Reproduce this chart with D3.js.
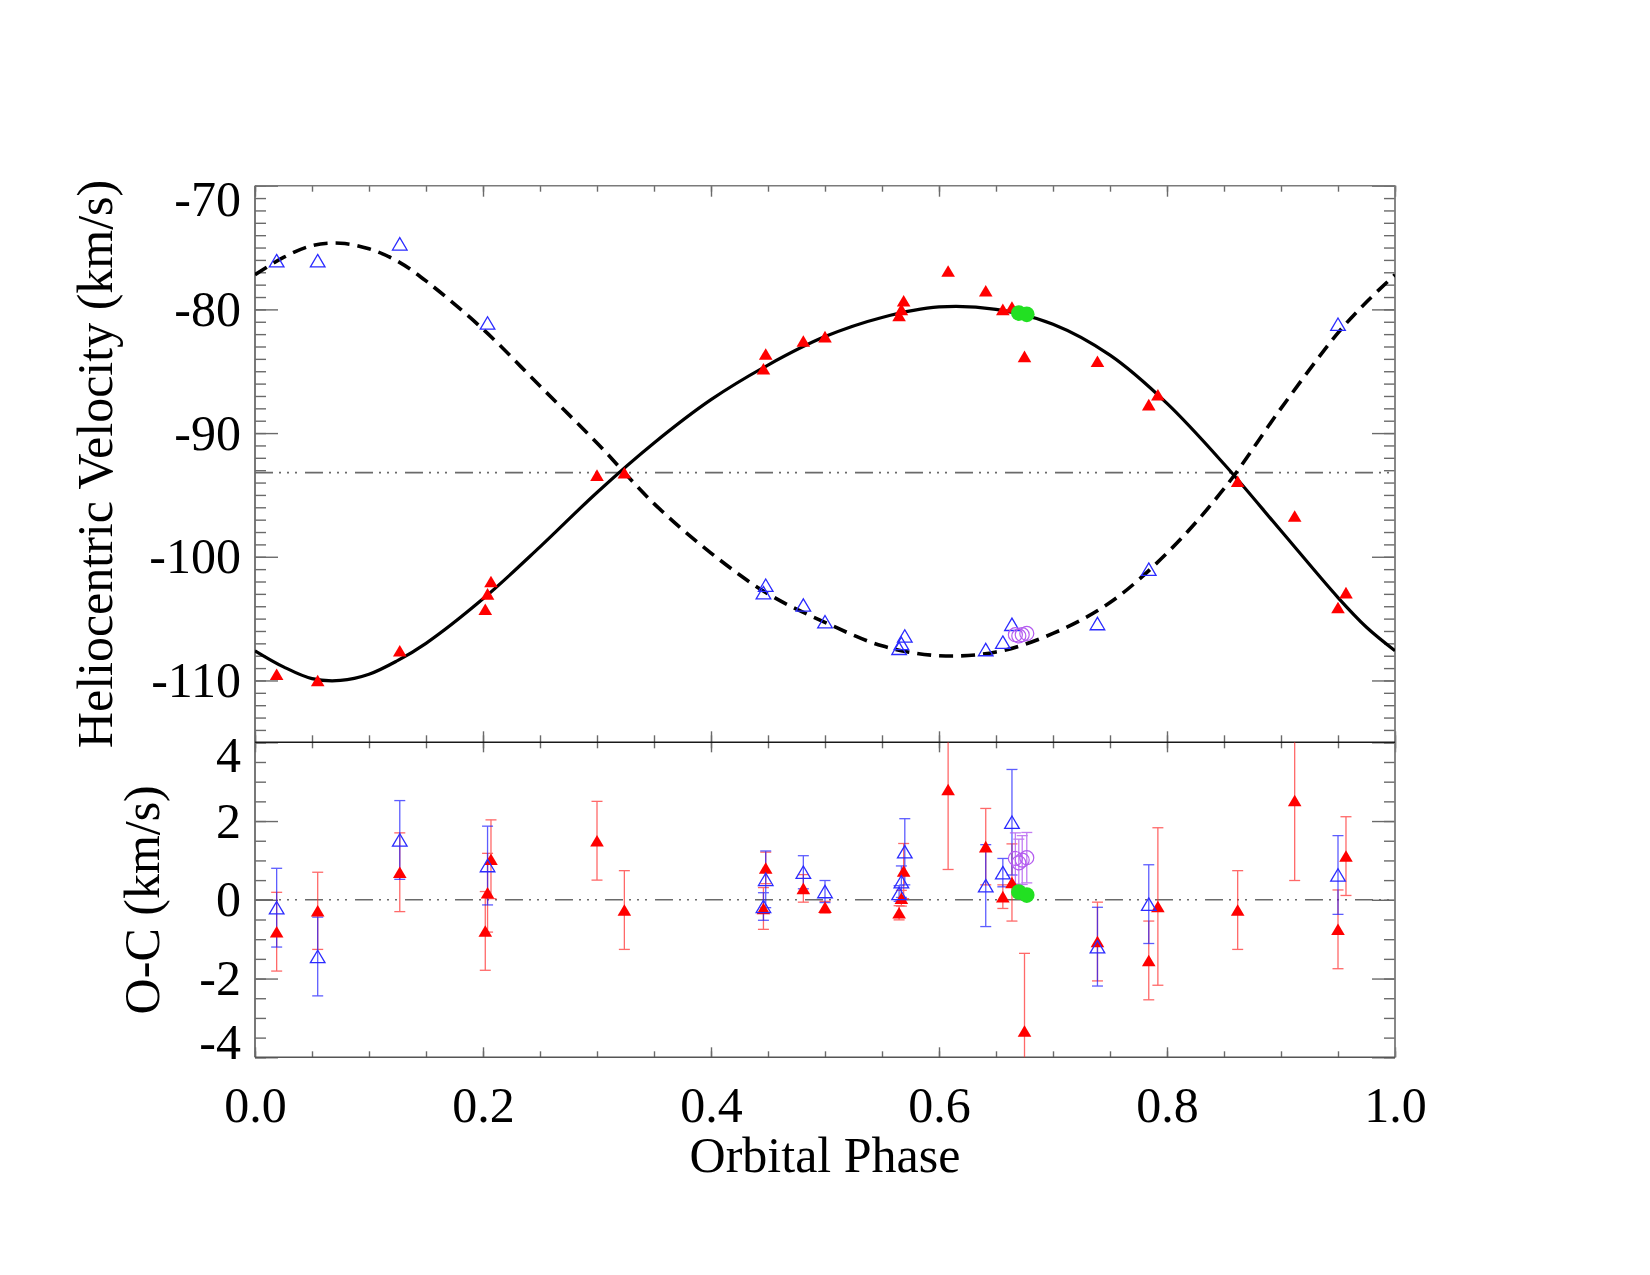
<!DOCTYPE html>
<html><head><meta charset="utf-8">
<script src="https://cdn.jsdelivr.net/npm/d3@7"></script>
<style>body{margin:0;background:#fff} svg{display:block}</style>
</head><body>
<svg id="c" width="1650" height="1275"></svg>
<script>
// ---------- DATA ----------
const curvePhases    = [0, 0.025, 0.05, 0.075, 0.10, 0.125, 0.15, 0.20, 0.25, 0.30, 0.35, 0.40, 0.45, 0.50, 0.55, 0.60, 0.65, 0.70, 0.75, 0.80, 0.85, 0.90, 0.95, 0.975, 1.0];
const primaryCurve   = [-107.6, -108.9, -109.85, -110.0, -109.5, -108.4, -107.0, -103.4, -99.2, -94.8, -90.8, -87.3, -84.5, -82.2, -80.65, -79.8, -80.0, -81.2, -83.7, -87.6, -92.5, -97.9, -103.3, -105.7, -107.6];
const secondaryCurve = [-77.2, -75.8, -74.85, -74.65, -75.1, -76.1, -77.7, -81.6, -86.2, -90.8, -95.7, -99.7, -103.0, -105.3, -107.2, -108.0, -107.7, -106.2, -103.7, -99.7, -94.5, -88.0, -81.9, -79.4, -77.2];
const gammaVel = -93.2;

const priPhase = [0.019, 0.055, 0.127, 0.202, 0.204, 0.207, 0.300, 0.324, 0.446, 0.448, 0.481, 0.500, 0.565, 0.567, 0.569, 0.608, 0.641, 0.656, 0.664, 0.675, 0.739, 0.784, 0.792, 0.862, 0.912, 0.950, 0.957];
const priRV    = [-109.5, -110.0, -107.6, -104.25, -103.0, -102.0, -93.4, -93.2, -84.8, -83.6, -82.55, -82.2, -80.5, -80.0, -79.3, -76.9, -78.5, -80.0, -79.8, -83.8, -84.2, -87.7, -86.9, -93.9, -96.7, -104.1, -102.9];
const priOC    = [-0.81, -0.28, 0.70, -0.79, 0.18, 1.03, 1.50, -0.26, -0.22, 0.81, 0.29, -0.19, -0.33, 0.04, 0.73, 2.80, 1.35, 0.08, 0.44, -3.33, -1.06, -1.54, -0.17, -0.26, 2.52, -0.75, 1.11];
const priErr   = [1.0, 0.98, 1.0, 1.0, 1.0, 1.0, 1.0, 1.0, 0.53, 0.40, 0.35, 0.15, 0.18, 0.20, 0.70, 2.03, 0.97, 0.30, 0.98, 1.97, 1.0, 1.0, 2.0, 1.0, 2.03, 1.0, 1.0];

const secPhase = [0.019, 0.055, 0.127, 0.204, 0.446, 0.448, 0.481, 0.500, 0.565, 0.567, 0.570, 0.641, 0.656, 0.664, 0.739, 0.784, 0.950];
const secRV    = [-76.06, -76.06, -74.7, -81.1, -102.9, -102.3, -103.9, -105.25, -107.4, -107.0, -106.4, -107.5, -106.9, -105.46, -105.4, -101.0, -81.2];
const secOC    = [-0.20, -1.44, 1.52, 0.87, -0.17, 0.52, 0.70, 0.21, 0.16, 0.46, 1.22, 0.36, 0.69, 1.97, -1.19, -0.11, 0.63];
const secErr   = [1.0, 1.0, 1.0, 1.0, 0.35, 0.72, 0.42, 0.28, 0.20, 0.40, 0.84, 1.04, 0.36, 1.34, 1.0, 1.0, 1.0];

const violetPhase = [0.667, 0.670, 0.673, 0.677];
const violetRV    = [-106.3, -106.4, -106.3, -106.2];
const violetOC    = [1.05, 0.94, 1.01, 1.07];
const violetErr   = [0.65, 0.60, 0.62, 0.64];

const greenPhase = [0.670, 0.677];
const greenRV    = [-80.3, -80.4];
const greenOC    = [0.20, 0.12];

const rvMajorTicks = [-70, -80, -90, -100, -110];
const ocMajorTicks = [4, 2, 0, -2, -4];
const phaseMajorTicks = [0, 0.2, 0.4, 0.6, 0.8, 1.0];
const phaseTickLabels = ["0.0", "0.2", "0.4", "0.6", "0.8", "1.0"];
const yTitleTop = "Heliocentric Velocity (km/s)";
const yTitleBottom = "O-C (km/s)";
const xTitle = "Orbital Phase";

// ---------- LAYOUT ----------
const W = 1650, H = 1275;
const L = 255, R = 1395, T1 = 185.7, B1 = 742.3, T2 = 742.3, B2 = 1057.3;
const FONT = "'Liberation Serif','Times New Roman',serif";
const FS = 50;
const svg = d3.select("#c");
svg.append("rect").attr("width", W).attr("height", H).attr("fill", "#fff");

const x = d3.scaleLinear().domain([0, 1]).range([L, R]);
const y1 = d3.scaleLinear().domain([-115, -70]).range([B1, T1]);
const y2 = d3.scaleLinear().domain([-4, 4]).range([B2, T2]);

const defs = svg.append("defs");
defs.append("clipPath").attr("id", "clip1").append("rect").attr("x", L).attr("y", T1).attr("width", R - L).attr("height", B1 - T1);
defs.append("clipPath").attr("id", "clip2").append("rect").attr("x", L).attr("y", T2).attr("width", R - L).attr("height", B2 - T2);

// triangle symbol (bbox-centred like IDL)
const triType = { draw(ctx, size) { const s = Math.sqrt(size); ctx.moveTo(0, -0.85 * s); ctx.lineTo(s, 0.85 * s); ctx.lineTo(-s, 0.85 * s); ctx.closePath(); } };
const redTri = d3.symbol().type(triType).size(6.8 * 6.8)();
const blueTri = d3.symbol().type(triType).size(7.3 * 7.3)();

function styleAxis(g) {
  g.select(".domain").remove();
  g.selectAll(".tick line").attr("stroke", "#6a6a6a").attr("stroke-width", 1.4);
  g.selectAll("text").attr("font-family", FONT).attr("font-size", FS).attr("fill", "#000");
}

const minorRV = d3.range(-115, -69.5, 1);
const minorOC = d3.range(-4, 4.01, 0.5);
const minorPh = d3.range(0, 1.001, 0.05);

// ---- y axes top panel ----
svg.append("g").attr("transform", `translate(${L},0)`).call(d3.axisLeft(y1).tickValues(minorRV).tickSize(-11).tickFormat("")).call(styleAxis);
const yl1 = svg.append("g").attr("transform", `translate(${L},0)`).call(d3.axisLeft(y1).tickValues(rvMajorTicks).tickSize(-23).tickPadding(14).tickFormat(d => String(d))).call(styleAxis);
yl1.selectAll("text").filter(d => d === -70).attr("dy", "0.6em");
svg.append("g").attr("transform", `translate(${R},0)`).call(d3.axisRight(y1).tickValues(minorRV).tickSize(-11).tickFormat("")).call(styleAxis);
svg.append("g").attr("transform", `translate(${R},0)`).call(d3.axisRight(y1).tickValues(rvMajorTicks).tickSize(-23).tickFormat("")).call(styleAxis);

// ---- y axes bottom panel ----
svg.append("g").attr("transform", `translate(${L},0)`).call(d3.axisLeft(y2).tickValues(minorOC).tickSize(-11).tickFormat("")).call(styleAxis);
const yl2 = svg.append("g").attr("transform", `translate(${L},0)`).call(d3.axisLeft(y2).tickValues(ocMajorTicks).tickSize(-23).tickPadding(14).tickFormat(d => String(d))).call(styleAxis);
yl2.selectAll("text").filter(d => d === 4).attr("dy", "0.58em");
yl2.selectAll("text").filter(d => d === -4).attr("dy", "0.02em");
svg.append("g").attr("transform", `translate(${R},0)`).call(d3.axisRight(y2).tickValues(minorOC).tickSize(-11).tickFormat("")).call(styleAxis);
svg.append("g").attr("transform", `translate(${R},0)`).call(d3.axisRight(y2).tickValues(ocMajorTicks).tickSize(-23).tickFormat("")).call(styleAxis);

// ---- x axes ----
svg.append("g").attr("transform", `translate(0,${T1})`).call(d3.axisTop(x).tickValues(minorPh).tickSize(-6).tickFormat("")).call(styleAxis);
svg.append("g").attr("transform", `translate(0,${T1})`).call(d3.axisTop(x).tickValues(phaseMajorTicks).tickSize(-11).tickFormat("")).call(styleAxis);
svg.append("g").attr("transform", `translate(0,${B1})`).call(d3.axisBottom(x).tickValues(minorPh).tickSize(-7).tickFormat("")).call(styleAxis);
svg.append("g").attr("transform", `translate(0,${B1})`).call(d3.axisBottom(x).tickValues(phaseMajorTicks).tickSize(-11).tickFormat("")).call(styleAxis);
svg.append("g").attr("transform", `translate(0,${T2})`).call(d3.axisTop(x).tickValues(minorPh).tickSize(-6).tickFormat("")).call(styleAxis);
svg.append("g").attr("transform", `translate(0,${T2})`).call(d3.axisTop(x).tickValues(phaseMajorTicks).tickSize(-10).tickFormat("")).call(styleAxis);
svg.append("g").attr("transform", `translate(0,${B2})`).call(d3.axisBottom(x).tickValues(minorPh).tickSize(-6).tickFormat("")).call(styleAxis);
svg.append("g").attr("transform", `translate(0,${B2})`).call(d3.axisBottom(x).tickValues(phaseMajorTicks).tickSize(-10).tickPadding(29).tickFormat((d, i) => phaseTickLabels[i])).call(styleAxis);

// ---- frames ----
const frame = svg.append("g").attr("fill", "none");
frame.append("line").attr("x1", L).attr("x2", R).attr("y1", T1).attr("y2", T1).attr("stroke", "#7a7a7a").attr("stroke-width", 1.6);
frame.append("line").attr("x1", L).attr("x2", L).attr("y1", T1).attr("y2", B2).attr("stroke", "#6a6a6a").attr("stroke-width", 1.8);
frame.append("line").attr("x1", R).attr("x2", R).attr("y1", T1).attr("y2", B2).attr("stroke", "#7a7a7a").attr("stroke-width", 1.8);
frame.append("line").attr("x1", L).attr("x2", R).attr("y1", B1).attr("y2", B1).attr("stroke", "#1a1a1a").attr("stroke-width", 1.5);
frame.append("line").attr("x1", L).attr("x2", R).attr("y1", B2).attr("y2", B2).attr("stroke", "#555").attr("stroke-width", 1.6);

// ---- top panel content ----
const p1 = svg.append("g").attr("clip-path", "url(#clip1)");
p1.append("line").attr("x1", x(0)).attr("x2", x(1)).attr("y1", y1(gammaVel)).attr("y2", y1(gammaVel))
  .attr("stroke", "#6a6a6a").attr("stroke-width", 1.6).attr("stroke-dasharray", "18 6 2 6 2 6 2 8");
const curveData = (vals) => curvePhases.map((p, i) => [p, vals[i]]);
const line1 = d3.line().x(d => x(d[0])).y(d => y1(d[1])).curve(d3.curveCatmullRom.alpha(0.5));
p1.append("path").datum(curveData(primaryCurve)).attr("d", line1).attr("fill", "none").attr("stroke", "#000").attr("stroke-width", 3.2);
p1.append("path").datum(curveData(secondaryCurve)).attr("d", line1).attr("fill", "none").attr("stroke", "#000").attr("stroke-width", 3.6).attr("stroke-dasharray", "14 8");

p1.selectAll(".pr").data(priPhase).join("path").attr("d", redTri)
  .attr("transform", (d, i) => `translate(${x(d)},${y1(priRV[i])})`).attr("fill", "#ff0000");
p1.selectAll(".sc").data(secPhase).join("path").attr("d", blueTri)
  .attr("transform", (d, i) => `translate(${x(d)},${y1(secRV[i])})`).attr("fill", "none").attr("stroke", "#2b2bff").attr("stroke-width", 1.3);
p1.selectAll(".vi").data(violetPhase).join("circle").attr("cx", d => x(d)).attr("cy", (d, i) => y1(violetRV[i])).attr("r", 7)
  .attr("fill", "none").attr("stroke", "#b45cf0").attr("stroke-width", 1.2);
p1.selectAll(".gr").data(greenPhase).join("circle").attr("cx", d => x(d)).attr("cy", (d, i) => y1(greenRV[i])).attr("r", 7.8)
  .attr("fill", "#22e022");

// ---- bottom panel content ----
const p2 = svg.append("g").attr("clip-path", "url(#clip2)");
p2.append("line").attr("x1", x(0)).attr("x2", x(1)).attr("y1", y2(0)).attr("y2", y2(0))
  .attr("stroke", "#6a6a6a").attr("stroke-width", 1.6).attr("stroke-dasharray", "18 6 2 6 2 6 2 8");

function errBars(g, ph, oc, er, color, op) {
  const grp = g.append("g").attr("stroke", color).attr("stroke-width", 1.3).attr("opacity", op).attr("fill", "none");
  ph.forEach((p, i) => {
    const cx = x(p), yt = y2(oc[i] + er[i]), yb = y2(oc[i] - er[i]);
    grp.append("line").attr("x1", cx).attr("x2", cx).attr("y1", yt).attr("y2", yb);
    grp.append("line").attr("x1", cx - 5.5).attr("x2", cx + 5.5).attr("y1", yt).attr("y2", yt);
    grp.append("line").attr("x1", cx - 5.5).attr("x2", cx + 5.5).attr("y1", yb).attr("y2", yb);
  });
}
errBars(p2, priPhase, priOC, priErr, "#ff2a2a", 0.7);
errBars(p2, secPhase, secOC, secErr, "#1a1aff", 0.7);
errBars(p2, violetPhase, violetOC, violetErr, "#b45cf0", 0.8);

p2.selectAll(".pr").data(priPhase).join("path").attr("d", redTri)
  .attr("transform", (d, i) => `translate(${x(d)},${y2(priOC[i])})`).attr("fill", "#ff0000");
p2.selectAll(".sc").data(secPhase).join("path").attr("d", blueTri)
  .attr("transform", (d, i) => `translate(${x(d)},${y2(secOC[i])})`).attr("fill", "none").attr("stroke", "#2b2bff").attr("stroke-width", 1.3);
p2.selectAll(".vi").data(violetPhase).join("circle").attr("cx", d => x(d)).attr("cy", (d, i) => y2(violetOC[i])).attr("r", 7)
  .attr("fill", "none").attr("stroke", "#b45cf0").attr("stroke-width", 1.2);
p2.selectAll(".gr").data(greenPhase).join("circle").attr("cx", d => x(d)).attr("cy", (d, i) => y2(greenOC[i])).attr("r", 7.8)
  .attr("fill", "#22e022");

// ---- titles ----
svg.append("text").attr("transform", `translate(112,${(T1 + B1) / 2}) rotate(-90)`).attr("text-anchor", "middle")
  .attr("font-family", FONT).attr("font-size", FS).text(yTitleTop);
svg.append("text").attr("transform", `translate(159,${(T2 + B2) / 2}) rotate(-90)`).attr("text-anchor", "middle")
  .attr("font-family", FONT).attr("font-size", FS).text(yTitleBottom);
svg.append("text").attr("x", (L + R) / 2).attr("y", 1172).attr("text-anchor", "middle")
  .attr("font-family", FONT).attr("font-size", FS).text(xTitle);
</script>
</body></html>
